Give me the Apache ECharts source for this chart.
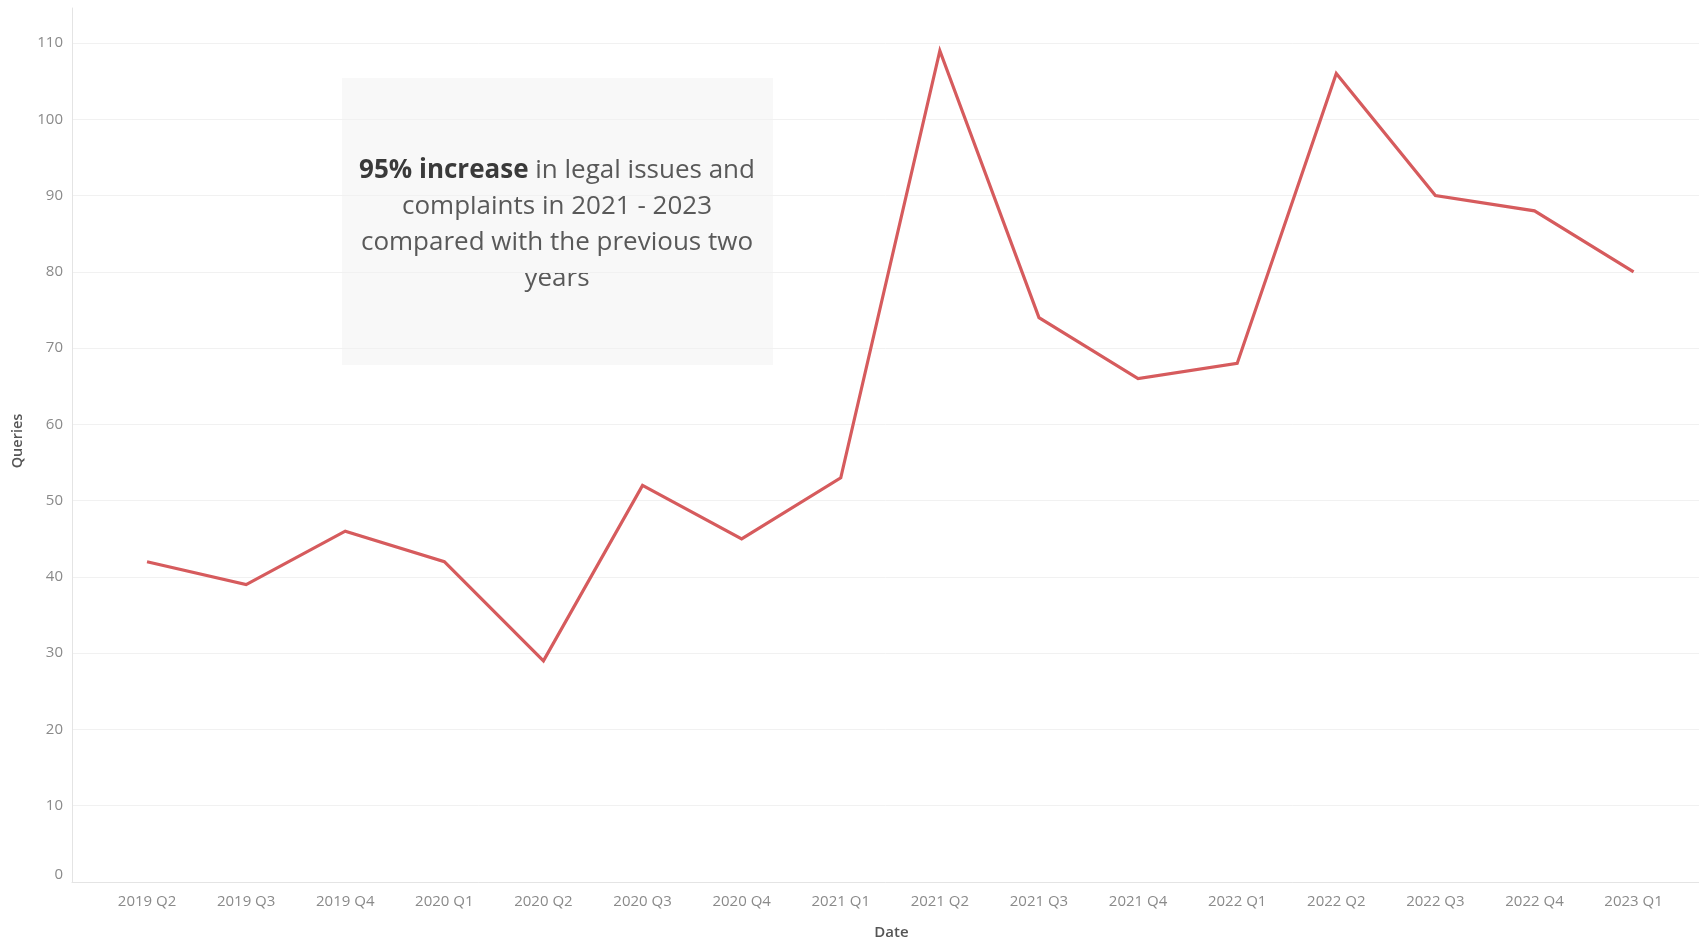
<!DOCTYPE html>
<html>
<head>
<meta charset="utf-8">
<title>Queries by quarter</title>
<script src="https://cdn.jsdelivr.net/npm/echarts@6/dist/echarts.min.js"></script>
<style>
  html, body { margin: 0; padding: 0; background: #ffffff; }
  #chart { width: 1699px; height: 942px; }
</style>
</head>
<body>
<div id="chart"></div>
<script>
// Quarterly query counts
const quarters = ['2019 Q2', '2019 Q3', '2019 Q4', '2020 Q1', '2020 Q2', '2020 Q3', '2020 Q4', '2021 Q1',
                  '2021 Q2', '2021 Q3', '2021 Q4', '2022 Q1', '2022 Q2', '2022 Q3', '2022 Q4', '2023 Q1'];
const queries = [42, 39, 46, 42, 29, 52, 45, 53, 109, 74, 66, 68, 106, 90, 88, 80];
const xTicks = quarters.map((q, i) => i);

const FONT = '"Open Sans", "Noto Sans", sans-serif';
const chart = echarts.init(document.getElementById('chart'), null, { renderer: 'canvas' });

chart.setOption({
  backgroundColor: '#ffffff',
  animation: false,
  grid: { left: 72, right: 0, top: 8, bottom: 60, containLabel: false, outerBoundsMode: 'none' },
  xAxis: {
    type: 'value',
    min: -0.757,
    max: 15.66,
    name: 'Date',
    nameLocation: 'middle',
    nameGap: 43,
    nameTextStyle: { color: '#555555', fontSize: 15, fontWeight: 600, fontFamily: FONT, padding: [0, 0, 0, 12] },
    axisLine: { show: true, onZero: false, lineStyle: { color: '#e4e4e4', width: 1 } },
    axisTick: { show: false, customValues: xTicks },
    splitLine: { show: false },
    axisLabel: {
      customValues: xTicks,
      color: '#8a8a8a',
      fontSize: 15,
      fontFamily: FONT,
      margin: 12,
      formatter: v => quarters[Math.round(v)] || ''
    }
  },
  yAxis: {
    type: 'value',
    min: 0,
    max: 114.6,
    interval: 10,
    name: 'Queries',
    nameLocation: 'middle',
    nameGap: 47,
    nameRotate: 90,
    nameTextStyle: { color: '#555555', fontSize: 14.5, fontWeight: 600, fontFamily: FONT, padding: [0, 0, 0, 8] },
    axisLine: { show: true, onZero: false, lineStyle: { color: '#e4e4e4', width: 1 } },
    axisTick: { show: false },
    axisLabel: {
      color: '#8a8a8a',
      fontSize: 15,
      fontFamily: FONT,
      margin: 9,
      showMaxLabel: false,
      verticalAlignMinLabel: 'bottom'
    },
    splitLine: { show: true, showMaxLine: false, lineStyle: { color: '#f1f1f1', width: 1 } }
  },
  series: [{
    type: 'line',
    data: queries.map((v, i) => [i, v]),
    showSymbol: false,
    symbol: 'none',
    lineStyle: { color: '#d65b5d', width: 3.2, join: 'miter' },
    itemStyle: { color: '#d65b5d' },
    z: 5
  }],
  graphic: [{
    type: 'group',
    left: 342,
    top: 78,
    z: 3,
    children: [{
      type: 'rect',
      shape: { x: 0, y: 0, width: 431, height: 287 },
      style: { fill: '#f8f8f8' }
    }, {
      type: 'text',
      x: 215,
      y: 146.5,
      style: {
        text: '{b|95% increase} in legal issues and\ncomplaints in 2021 - 2023\ncompared with the previous two\nyears',
        align: 'center',
        verticalAlign: 'middle',
        fill: '#595959',
        font: '26px ' + FONT,
        lineHeight: 36,
        rich: {
          b: { fontWeight: 'bold', fill: '#3a3a3a', fontSize: 26, fontFamily: FONT, lineHeight: 36 }
        }
      }
    }]
  }]
});
</script>
</body>
</html>
